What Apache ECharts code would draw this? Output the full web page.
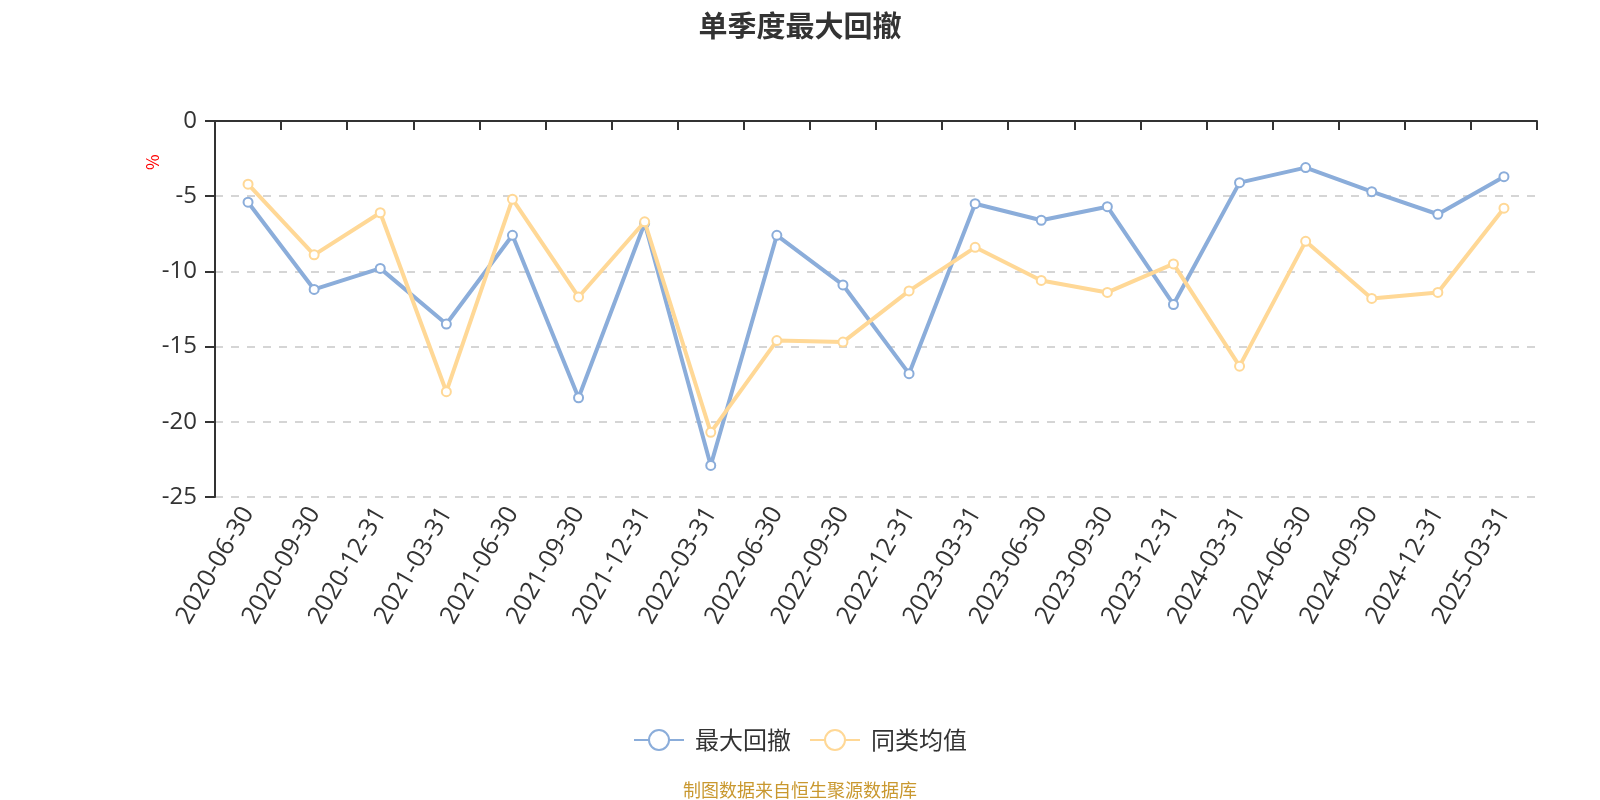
<!DOCTYPE html>
<html>
<head>
<meta charset="utf-8">
<script src="https://cdn.jsdelivr.net/npm/echarts@6/dist/echarts.min.js"></script>
<style>html,body{margin:0;padding:0;background:#fff;}#c{width:1600px;height:800px;}</style>
</head>
<body>
<div id="c"></div>
<script>
var categories = ['2020-06-30','2020-09-30','2020-12-31','2021-03-31','2021-06-30','2021-09-30','2021-12-31','2022-03-31','2022-06-30','2022-09-30','2022-12-31','2023-03-31','2023-06-30','2023-09-30','2023-12-31','2024-03-31','2024-06-30','2024-09-30','2024-12-31','2025-03-31'];
var maxDrawdown = [-5.4,-11.2,-9.8,-13.5,-7.6,-18.4,-6.8,-22.9,-7.6,-10.9,-16.8,-5.5,-6.6,-5.7,-12.2,-4.1,-3.1,-4.7,-6.2,-3.7];
var peerAverage = [-4.2,-8.9,-6.1,-18.0,-5.2,-11.7,-6.7,-20.7,-14.6,-14.7,-11.3,-8.4,-10.6,-11.4,-9.5,-16.3,-8.0,-11.8,-11.4,-5.8];
var seriesNames = ['最大回撤','同类均值'];
var titleText = '单季度最大回撤';
var footerText = '制图数据来自恒生聚源数据库';
var yTicks = {min: -25, max: 0, interval: 5};

var FONT = '"Noto Sans CJK SC","Noto Sans",sans-serif';
var NUMFONT = '"Open Sans","Noto Sans CJK SC",sans-serif';
var chart = echarts.init(document.getElementById('c'));
chart.setOption({
  backgroundColor: '#fff',
  textStyle: {fontFamily: FONT},
  title: [
    {text: titleText, left: 'center', top: 6, textStyle: {fontSize: 29, fontWeight: 'bold', color: '#333', fontFamily: FONT}},
    {text: footerText, left: 'center', top: 776, textStyle: {fontSize: 18, fontWeight: 'normal', color: '#c9982f', fontFamily: FONT}}
  ],
  legend: {
    data: seriesNames,
    left: 'center',
    top: 723,
    itemWidth: 50,
    itemHeight: 25,
    itemGap: 18,
    textStyle: {fontSize: 24, color: '#333', fontFamily: FONT, padding: [0, 0, 0, 6]}
  },
  graphic: [{
    type: 'text',
    x: 144, y: 170,
    rotation: Math.PI / 2,
    style: {text: '%', fill: '#ff0000', fontSize: 17, fontFamily: FONT}
  }],
  grid: {left: 215, right: 63, top: 121, bottom: 303, containLabel: false},
  xAxis: [
    {
      type: 'category', data: categories, boundaryGap: true,
      axisLine: {onZero: true, lineStyle: {color: '#333', width: 2}},
      axisTick: {show: true, interval: 0, length: 9, lineStyle: {color: '#333', width: 2}},
      axisLabel: {show: false, interval: 0},
      splitLine: {show: false}
    },
    {
      type: 'category', data: categories, boundaryGap: true, position: 'bottom',
      axisLine: {show: false, onZero: false},
      axisTick: {show: false},
      axisLabel: {show: true, rotate: 60, fontSize: 25, color: '#333', margin: 12, fontFamily: NUMFONT, interval: 0},
      splitLine: {show: false}
    }
  ],
  yAxis: {
    type: 'value', min: yTicks.min, max: yTicks.max, interval: yTicks.interval,
    axisLine: {show: true, lineStyle: {color: '#333', width: 2}},
    axisTick: {show: true, length: 10, lineStyle: {color: '#333', width: 2}},
    axisLabel: {fontSize: 24, color: '#333', margin: 18, fontFamily: NUMFONT},
    splitLine: {show: true, lineStyle: {type: [8, 8], color: '#c8c8c8', width: 1.5}}
  },
  series: [
    {
      name: seriesNames[0], type: 'line', data: maxDrawdown, xAxisIndex: 0,
      symbol: 'emptyCircle', symbolSize: 9,
      lineStyle: {width: 4, color: '#8badda'},
      itemStyle: {color: '#8badda', borderWidth: 2},
      z: 2
    },
    {
      name: seriesNames[1], type: 'line', data: peerAverage, xAxisIndex: 0,
      symbol: 'emptyCircle', symbolSize: 9,
      lineStyle: {width: 4, color: '#ffd896'},
      itemStyle: {color: '#ffd896', borderWidth: 2},
      z: 3
    }
  ],
  animation: false
});
</script>
</body>
</html>
